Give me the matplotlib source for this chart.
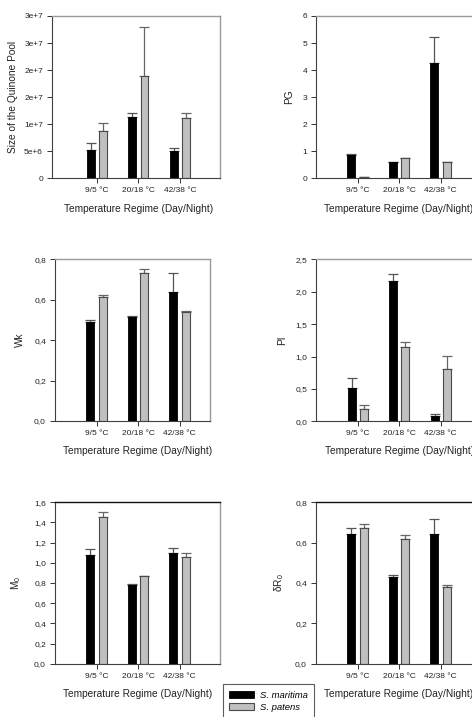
import matplotlib
matplotlib.use("Agg")
import matplotlib.pyplot as plt
import numpy as np
from matplotlib.patches import Patch

plt.rcParams['font.family'] = ['Liberation Sans', 'DejaVu Sans']

regimes = ['9/5 °C', '20/18 °C', '42/38 °C']
species = ['S. maritima', 'S. patens']

# mean values (S. maritima, S. patens) and upper error bars
quinone_mar = [5.3e6, 11.4e6, 5.1e6]
quinone_pat = [8.8e6, 18.9e6, 11.1e6]
quinone_mar_err = [1.2e6, 0.6e6, 0.45e6]
quinone_pat_err = [1.4e6, 9.1e6, 1.0e6]

pg_mar = [0.86, 0.61, 4.25]
pg_pat = [0.04, 0.74, 0.59]
pg_mar_err = [0.03, 0.01, 0.96]
pg_pat_err = [0.01, 0.02, 0.01]

wk_mar = [0.492, 0.515, 0.637]
wk_pat = [0.615, 0.731, 0.541]
wk_mar_err = [0.009, 0.004, 0.094]
wk_pat_err = [0.010, 0.019, 0.003]

pi_mar = [0.52, 2.16, 0.087]
pi_pat = [0.195, 1.15, 0.807]
pi_mar_err = [0.15, 0.11, 0.03]
pi_pat_err = [0.05, 0.08, 0.20]

m0_mar = [1.081, 0.781, 1.098]
m0_pat = [1.452, 0.867, 1.059]
m0_mar_err = [0.054, 0.007, 0.047]
m0_pat_err = [0.056, 0.006, 0.036]

dr0_mar = [0.645, 0.430, 0.645]
dr0_pat = [0.673, 0.618, 0.380]
dr0_mar_err = [0.030, 0.008, 0.070]
dr0_pat_err = [0.020, 0.018, 0.009]

W, H = 472, 717
fig = plt.figure(figsize=(W / 100, H / 100), dpi=100)

def px_axes(left, right, top, bottom):
    return fig.add_axes([left / W, 1 - bottom / H, (right - left) / W, (bottom - top) / H])

def panel(pos, x0, mar, pat, mar_err, pat_err, ylim, yticks, yticklabels,
          ylabel, ylab_x, xlab_y, top_color):
    ax = px_axes(*pos)
    width_px = pos[1] - pos[0]
    x = np.arange(1, 4)
    bw = 0.19
    off = 0.148
    ax.bar(x - off, mar, bw, color='black', edgecolor='black', linewidth=0.6, zorder=2)
    ax.bar(x + off, pat, bw, color='#c0c0c0', edgecolor='#4a4a4a', linewidth=0.8, zorder=2)
    ax.errorbar(x - off, mar, yerr=[np.zeros(3), mar_err], fmt='none', ecolor='#555555',
                elinewidth=0.9, capsize=3.5, capthick=0.9, zorder=1)
    ax.errorbar(x + off, pat, yerr=[np.zeros(3), pat_err], fmt='none', ecolor='#666666',
                elinewidth=0.9, capsize=3.5, capthick=0.9, zorder=1)
    ax.set_xlim(x0, x0 + width_px / 41.5)
    ax.set_ylim(*ylim)
    ax.set_yticks(yticks)
    ax.set_yticklabels(yticklabels)
    ax.set_xticks(x)
    ax.set_xticklabels(regimes)
    ax.tick_params(axis='both', labelsize=6.0, length=3.5, width=0.7, color='#333333',
                   pad=3, labelcolor='#222222')
    for s in ['left', 'bottom']:
        ax.spines[s].set_color('#404040')
        ax.spines[s].set_linewidth(0.8)
    ax.spines['right'].set_color('#9a9a9a')
    ax.spines['right'].set_linewidth(1.0)
    ax.spines['top'].set_color(top_color)
    ax.spines['top'].set_linewidth(1.0)
    ax.set_ylabel(ylabel, fontsize=7.3, va='center', color='#222222')
    ax.yaxis.set_label_coords((ylab_x - pos[0]) / width_px, 0.5)
    ax.set_xlabel('Temperature Regime (Day/Night)', fontsize=7.3, va='center', color='#222222')
    ax.xaxis.set_label_coords((2 - x0) / (width_px / 41.5), -(xlab_y - pos[3]) / (pos[3] - pos[2]))
    return ax

panel((52, 220, 16, 178.3), -0.08, quinone_mar, quinone_pat, quinone_mar_err, quinone_pat_err,
      (0, 3e7), np.arange(0, 3.01e7, 5e6), ['0', '5e+6', '1e+7', '2e+7', '2e+7', '3e+7', '3e+7'],
      'Size of the Quinone Pool', 13, 209.3, '#9a9a9a')

panel((316, 485, 16, 178.3), 0.0, pg_mar, pg_pat, pg_mar_err, pg_pat_err,
      (0, 6), np.arange(0, 7), [str(i) for i in range(7)],
      'PG', 289, 209.3, '#9a9a9a')

panel((55, 210, 259.3, 421), 0.0, wk_mar, wk_pat, wk_mar_err, wk_pat_err,
      (0, 0.8), np.arange(0, 0.81, 0.2), ['0,0', '0,2', '0,4', '0,6', '0,8'],
      'Wk', 20, 450.5, '#9a9a9a')

panel((316.3, 485, 259.3, 421.3), 0.0, pi_mar, pi_pat, pi_mar_err, pi_pat_err,
      (0, 2.5), np.arange(0, 2.51, 0.5), ['0,0', '0,5', '1,0', '1,5', '2,0', '2,5'],
      'PI', 281.7, 451, '#9a9a9a')

panel((55, 220, 502.3, 663.7), 0.0, m0_mar, m0_pat, m0_mar_err, m0_pat_err,
      (0, 1.6), np.arange(0, 1.61, 0.2), ['0,0', '0,2', '0,4', '0,6', '0,8', '1,0', '1,2', '1,4', '1,6'],
      r'M$_\mathregular{0}$', 16, 694.3, '#111111')

panel((316, 485, 502.3, 663.7), 0.0, dr0_mar, dr0_pat, dr0_mar_err, dr0_pat_err,
      (0, 0.8), np.arange(0, 0.81, 0.2), ['0,0', '0,2', '0,4', '0,6', '0,8'],
      r'δR$_\mathregular{0}$', 279.3, 694.3, '#111111')

handles = [Patch(facecolor='black', edgecolor='black', linewidth=0.6),
           Patch(facecolor='#c0c0c0', edgecolor='#4a4a4a', linewidth=0.8)]
leg = fig.legend(handles, species, loc='upper left',
                 bbox_to_anchor=(222.7 / W, 1 - 684 / H), bbox_transform=fig.transFigure,
                 prop={'size': 6.8, 'style': 'italic'}, frameon=True, fancybox=False,
                 handlelength=2.6, handleheight=0.8, handletextpad=0.6,
                 labelspacing=0.35, borderpad=0.7, borderaxespad=0)
leg.get_frame().set_edgecolor('#333333')
leg.get_frame().set_linewidth(0.8)

fig.savefig('out.png', dpi=100)
